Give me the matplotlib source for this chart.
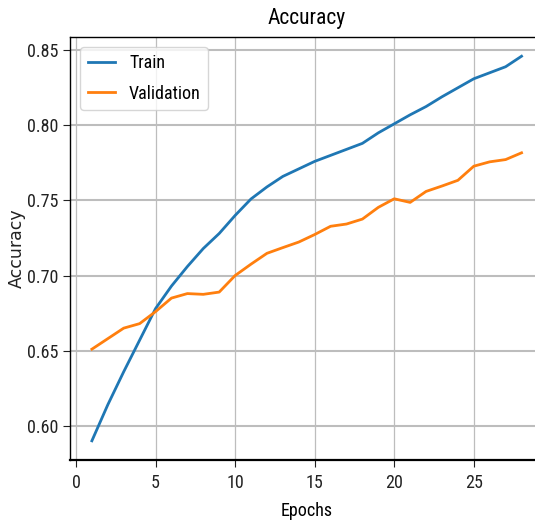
import matplotlib
matplotlib.use("Agg")
import matplotlib.pyplot as plt

# Значения
epochs = list(range(1, 29))
train_acc = [0.590, 0.614, 0.636, 0.657, 0.678, 0.693, 0.706, 0.718, 0.728, 0.740,
             0.751, 0.759, 0.766, 0.771, 0.776, 0.780, 0.784, 0.788, 0.795, 0.801,
             0.807, 0.8125, 0.819, 0.825, 0.831, 0.835, 0.839, 0.846]
val_acc = [0.651, 0.658, 0.665, 0.668, 0.676, 0.685, 0.688, 0.6875, 0.689, 0.700,
           0.7076, 0.7148, 0.7186, 0.7223, 0.7273, 0.7328, 0.7343, 0.7376, 0.7454, 0.7511,
           0.7487, 0.756, 0.7596, 0.7634, 0.7728, 0.7757, 0.7772, 0.7817]

plt.rcParams['font.family'] = ['Roboto Condensed', 'DejaVu Sans']
plt.rcParams['font.size'] = 13

fig = plt.figure(figsize=(5.35, 5.21), dpi=100)
ax = fig.add_axes([0.1316, 0.117, 0.8834, 0.812])

ax.plot(epochs, train_acc, color='#1f77b4', linewidth=2.0, label='Train')
ax.plot(epochs, val_acc, color='#ff7f0e', linewidth=2.0, label='Validation')

ax.set_title('Accuracy', fontsize=15.5, pad=9)
ax.set_xlabel('Epochs', labelpad=7)
# подпись по оси Y на картинке растянута по вертикали, поэтому обычный (широкий) шрифт
ax.set_ylabel('Accuracy', family=['DejaVu Sans'], fontsize=12.5, color='#222222')
ax.yaxis.set_label_coords(-0.094, 0.5)
ax.set_xticks([0, 5, 10, 15, 20, 25])
ax.set_yticks([0.60, 0.65, 0.70, 0.75, 0.80, 0.85])
ax.grid(True, axis='y', color='#bdbdbd', linewidth=1.5)
ax.grid(True, axis='x', color='#bdbdbd', linewidth=0.9)
for side in ['left', 'top']:
    ax.spines[side].set_linewidth(1.0)
ax.spines['bottom'].set_linewidth(1.6)
ax.tick_params(axis='both', length=5, colors='#222222')
ax.tick_params(axis='x', pad=5)
ax.legend(loc='upper left', handlelength=1.5, fontsize=13, labelspacing=0.7,
          borderaxespad=0.55)

fig.savefig('out.png', dpi=100)
